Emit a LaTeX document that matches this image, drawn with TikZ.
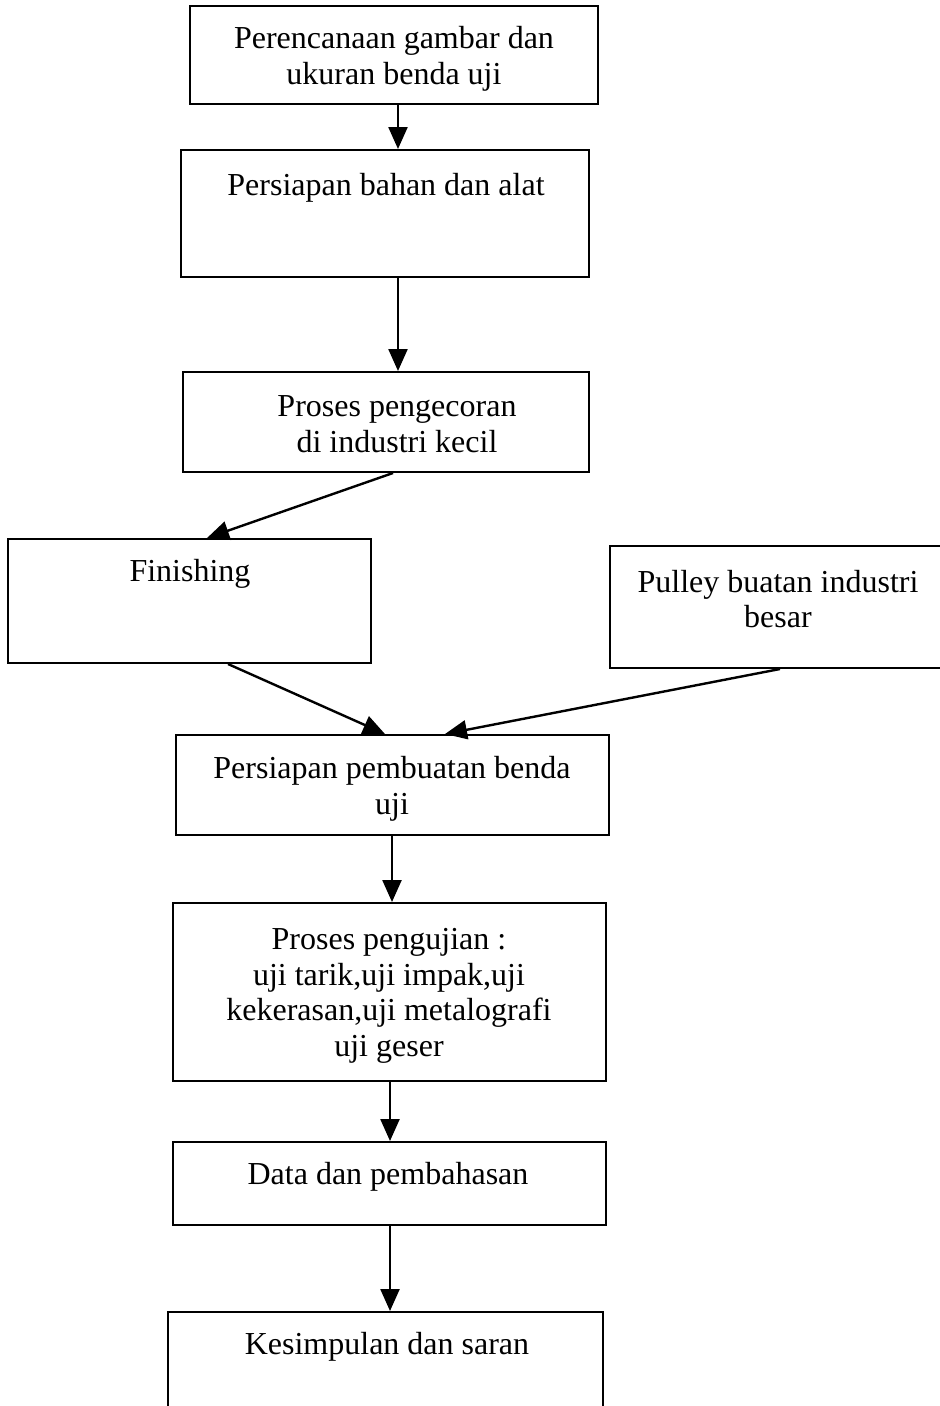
\documentclass[tikz,border=0pt]{standalone}
\usepackage{fontspec}
\setmainfont{Liberation Serif}
\usetikzlibrary{arrows.meta}
\begin{document}
\begin{tikzpicture}[x=1pt,y=-1pt,
  box/.style={draw,line width=2pt,inner sep=0pt},
  txt/.style={align=center,inner sep=0pt,font=\fontsize{32}{35.5}\selectfont},
  arr/.style={line width=2.4pt,-{Triangle[length=22pt,width=19pt]}}]
\clip (0,0) rectangle (940,1406);
\fill[white] (0,0) rectangle (940,1406);
% boxes
\node[box,minimum width=408pt,minimum height=98pt] (b1) at (394,55) {};
\node[box,minimum width=408pt,minimum height=127pt] (b2) at (385,213.5) {};
\node[box,minimum width=406pt,minimum height=100pt] (b3) at (386,422) {};
\node[box,minimum width=363pt,minimum height=124pt] (b4) at (189.5,601) {};
\node[box,minimum width=340pt,minimum height=122pt] (b5) at (780,607) {};
\node[box,minimum width=433pt,minimum height=100pt] (b6) at (392.5,785) {};
\node[box,minimum width=433pt,minimum height=178pt] (b7) at (389.5,992) {};
\node[box,minimum width=433pt,minimum height=83pt] (b8) at (389.5,1183.5) {};
\node[box,minimum width=435pt,minimum height=110pt] (b9) at (385.5,1367) {};
% texts
\node[txt] (t1) at (394,59) {Perencanaan gambar dan\\ukuran benda uji};
\node[txt] (t2) at (386,188) {Persiapan bahan dan alat};
\node[txt] (t3) at (397,424) {Proses pengecoran\\di industri kecil};
\node[txt] (t4) at (190,574) {Finishing};
\node[txt] (t5) at (778,599) {Pulley buatan industri\\besar};
\node[txt] (t6) at (392,789) {Persiapan pembuatan benda\\uji};
\node[txt] (t7) at (389,996) {Proses pengujian :\\uji tarik,uji impak,uji\\kekerasan,uji metalografi\\uji geser};
\node[txt] (t8) at (388,1177) {Data dan pembahasan};
\node[txt] (t9) at (387,1347) {Kesimpulan dan saran};
% connector reference columns
\coordinate (c12) at (398,0);
\coordinate (c3s) at (393,0);
\coordinate (c4n) at (207,0);
\coordinate (c4s) at (228,0);
\coordinate (c6a) at (385,0);
\coordinate (c5s) at (780,0);
\coordinate (c6b) at (445,0);
\coordinate (c67) at (392,0);
\coordinate (c78) at (390,0);
% connectors
\draw[arr] (b1.south -| c12) -- (b2.north -| c12);
\draw[arr] (b2.south -| c12) -- (b3.north -| c12);
\draw[arr] (b3.south -| c3s) -- (b4.north -| c4n);
\draw[arr] (b4.south -| c4s) -- (b6.north -| c6a);
\draw[arr] (b5.south -| c5s) -- (b6.north -| c6b);
\draw[arr] (b6.south -| c67) -- (b7.north -| c67);
\draw[arr] (b7.south -| c78) -- (b8.north -| c78);
\draw[arr] (b8.south -| c78) -- (b9.north -| c78);
\end{tikzpicture}
\end{document}
